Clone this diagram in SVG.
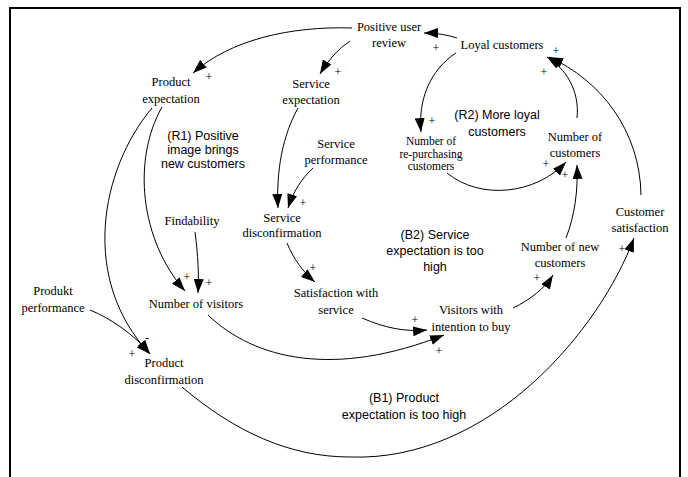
<svg xmlns="http://www.w3.org/2000/svg" width="688" height="477" viewBox="0 0 688 477">
<style>
.n{font-family:"Liberation Serif","Times New Roman",serif;font-size:12.5px;fill:#000;text-anchor:middle}
.t{font-family:"Liberation Serif","Times New Roman",serif;font-size:11.5px;fill:#000;text-anchor:middle}
.s{font-family:"Liberation Serif","Times New Roman",serif;font-size:12px;fill:#000;text-anchor:middle}
.l{font-family:"Liberation Sans",Arial,sans-serif;font-size:12.5px;fill:#000;text-anchor:middle}
.c{fill:none;stroke:#000;stroke-width:1;marker-end:url(#a)}
</style>
<defs>
<marker id="a" markerUnits="userSpaceOnUse" markerWidth="15" markerHeight="10" refX="14" refY="5" orient="auto">
<path d="M0,0 L14,5 L0,10 Z" fill="#000"/>
</marker>
</defs>
<rect x="10" y="8" width="670" height="480" fill="#fff" stroke="#000" stroke-width="2"/>
<g id="connectors">
<path class="c" d="M352 28 C290 26 230 40 193 73"/>
<path class="c" d="M350 41 Q333 52 320 74"/>
<path class="c" d="M457 38 Q442 33 424 33"/>
<path class="c" d="M456 53 C430 70 418 100 421 132"/>
<path class="c" d="M447 173 C480 200 535 195 566 162"/>
<path class="c" d="M577 118 C580 90 565 68 547 57"/>
<path class="c" d="M641 195 C640 130 600 80 549 57"/>
<path class="c" d="M566 238 C575 215 578 190 577 165"/>
<path class="c" d="M513 308 C530 300 545 288 553 275"/>
<path class="c" d="M362 318 C385 328 405 332 427 330"/>
<path class="c" d="M208 315 C255 360 335 378 444 335"/>
<path class="c" d="M287 243 C293 258 303 272 315 282"/>
<path class="c" d="M298 108 C283 135 276 170 278 208"/>
<path class="c" d="M313 168 C302 178 293 192 288 208"/>
<path class="c" d="M195 232 C198 255 199 275 198 293"/>
<path class="c" d="M162 107 C132 160 140 240 185 291"/>
<path class="c" d="M152 108 C100 170 80 280 150 354"/>
<path class="c" d="M90 310 C110 318 135 335 150 354"/>
<path class="c" d="M182 387 C235 432 290 457 350 457 C490 462 600 330 634 238"/>
</g>
<g id="polarities">
<text class="s" x="209" y="81">+</text>
<text class="s" x="338" y="76">+</text>
<text class="s" x="436" y="52">+</text>
<text class="s" x="544" y="76">+</text>
<text class="s" x="556" y="55">+</text>
<text class="s" x="432" y="125">+</text>
<text class="s" x="546" y="168">+</text>
<text class="s" x="565" y="179">+</text>
<text class="s" x="303" y="207">+</text>
<text class="s" x="313" y="272">+</text>
<text class="s" x="187" y="281">+</text>
<text class="s" x="209" y="287">+</text>
<text class="s" x="415" y="324">+</text>
<text class="s" x="439" y="355">+</text>
<text class="s" x="537" y="282">+</text>
<text class="s" x="622" y="253">+</text>
<text class="s" x="132" y="358">+</text>
<text class="s" x="147" y="342">-</text>
</g>
<g id="positive-user-review"><text class="n" x="389" y="31">Positive user</text><text class="n" x="389" y="47">review</text></g>
<g id="loyal-customers"><text class="n" x="502" y="49">Loyal customers</text></g>
<g id="product-expectation"><text class="n" x="171" y="86">Product</text><text class="n" x="171" y="103">expectation</text></g>
<g id="service-expectation"><text class="n" x="311" y="88">Service</text><text class="n" x="311" y="104">expectation</text></g>
<g id="re-purchasing"><text class="t" x="431" y="145">Number of</text><text class="t" x="431" y="157.5">re-purchasing</text><text class="t" x="431" y="169.5">customers</text></g>
<g id="number-of-customers"><text class="n" x="575" y="141">Number of</text><text class="n" x="575" y="157">customers</text></g>
<g id="service-performance"><text class="n" x="336" y="148">Service</text><text class="n" x="336" y="164">performance</text></g>
<g id="service-disconfirmation"><text class="n" x="282" y="222">Service</text><text class="n" x="282" y="237">disconfirmation</text></g>
<g id="findability"><text class="n" x="192" y="225">Findability</text></g>
<g id="customer-satisfaction"><text class="n" x="640" y="216">Customer</text><text class="n" x="640" y="232">satisfaction</text></g>
<g id="number-of-new-customers"><text class="n" x="560" y="251">Number of new</text><text class="n" x="560" y="267">customers</text></g>
<g id="produkt-performance"><text class="n" x="53" y="295">Produkt</text><text class="n" x="53" y="312">performance</text></g>
<g id="number-of-visitors"><text class="n" x="196" y="308">Number of visitors</text></g>
<g id="satisfaction-with-service"><text class="n" x="336" y="297">Satisfaction with</text><text class="n" x="336" y="314">service</text></g>
<g id="visitors-with-intention"><text class="n" x="471" y="314">Visitors with</text><text class="n" x="471" y="331">intention to buy</text></g>
<g id="product-disconfirmation"><text class="n" x="164" y="367">Product</text><text class="n" x="164" y="384">disconfirmation</text></g>
<g id="loop-labels">
<text class="l" x="203" y="140">(R1) Positive</text><text class="l" x="203" y="154">image brings</text><text class="l" x="203" y="168">new customers</text>
<text class="l" x="497" y="119">(R2) More loyal</text><text class="l" x="497" y="136">customers</text>
<text class="l" x="435" y="239">(B2) Service</text><text class="l" x="435" y="255">expectation is too</text><text class="l" x="435" y="271">high</text>
<text class="l" x="404" y="402">(B1) Product</text><text class="l" x="404" y="419">expectation is too high</text>
</g>
</svg>
